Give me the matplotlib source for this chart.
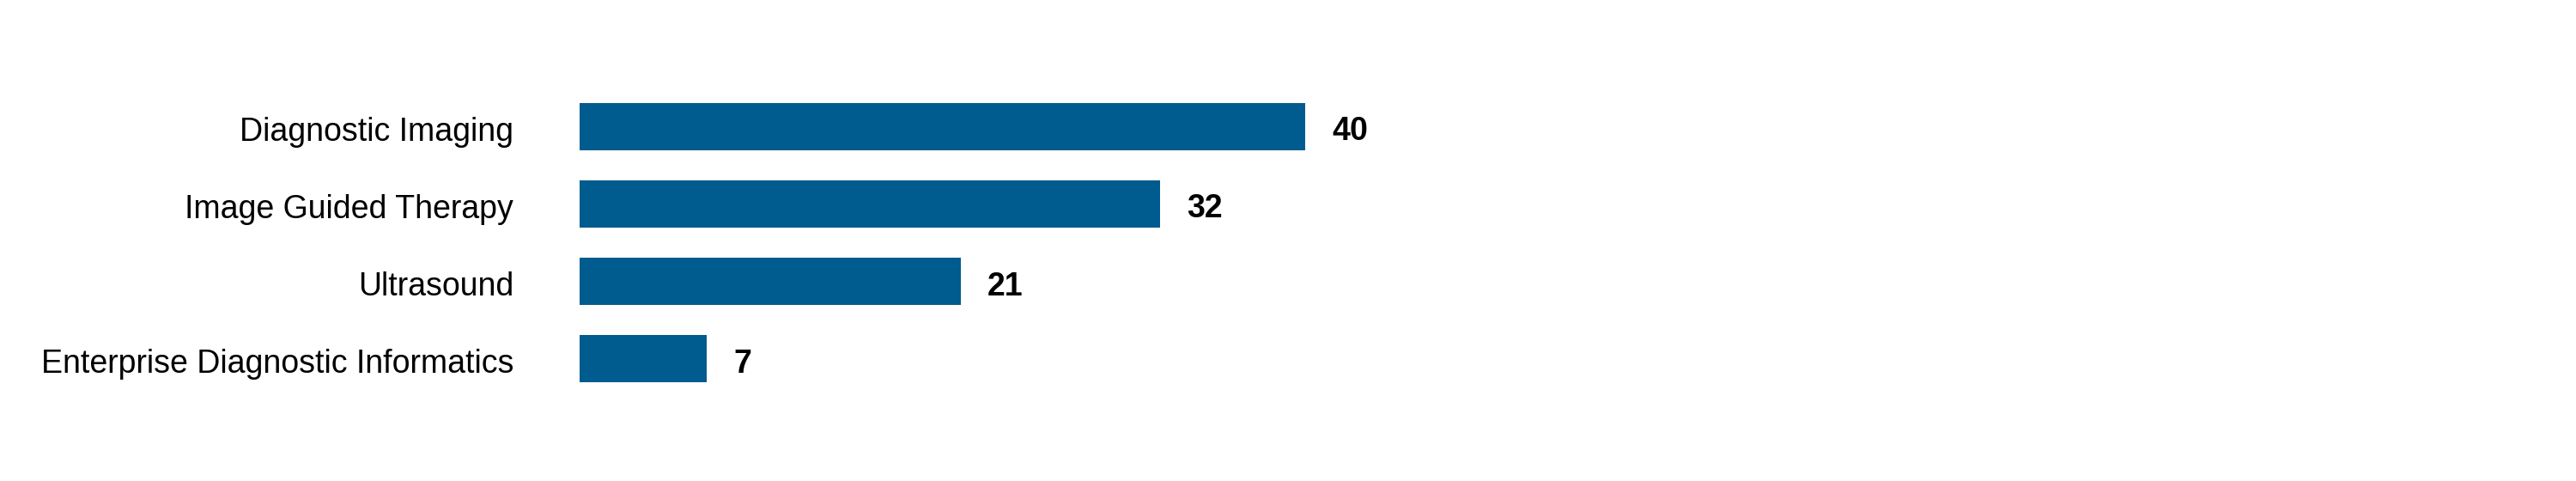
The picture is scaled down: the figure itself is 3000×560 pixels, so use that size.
import matplotlib
matplotlib.use("Agg")
import matplotlib.pyplot as plt
import matplotlib.transforms as mtransforms

categories = ["Diagnostic Imaging", "Image Guided Therapy", "Ultrasound", "Enterprise Diagnostic Informatics"]
values = [40, 32, 21, 7]
value_labels = ["40", "32", "21", "7"]

plt.rcParams['font.family'] = ['Liberation Sans', 'DejaVu Sans']

fig = plt.figure(figsize=(30, 5.6), dpi=100)
ax = fig.add_axes([675/3000, (560-462.5)/560, 2112.5/3000, 360/560])

ypos = list(range(len(categories)))
ax.barh(ypos, values, height=0.611, color="#005B8E")
ax.set_xlim(0, 100)
ax.set_ylim(3.5, -0.5)
ax.set_yticks(ypos)
ax.set_yticklabels(categories, fontsize=27)
ax.tick_params(axis='y', length=0, pad=77*0.72)
ax.set_xticks([])
for s in ax.spines.values():
    s.set_visible(False)

shift = mtransforms.ScaledTranslation(0, -3/100, fig.dpi_scale_trans)
for lbl in ax.get_yticklabels():
    lbl.set_transform(lbl.get_transform() + shift)

for y, v, lab in zip(ypos, values, value_labels):
    ax.annotate(lab, xy=(v, y), xytext=(31*0.72, -6*0.72), textcoords='offset points',
                va='center', ha='left', fontsize=27, fontweight='bold', color='black')

fig.savefig("out.png", dpi=100, facecolor='white')
